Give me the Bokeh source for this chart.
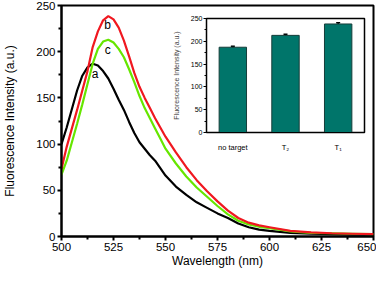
from bokeh.plotting import figure
from bokeh.models import Range1d, FactorRange, ColumnDataSource, Whisker, TeeHead, FixedTicker, GridBox
from bokeh.embed import file_html
from bokeh.resources import INLINE
from bokeh.core.properties import value

# ---- main spectra ----
wavelength = [500, 502.5, 505, 507.5, 510, 512.5, 515, 517.5, 520, 522.5, 525, 527.5,
              530, 532.5, 535, 537.5, 540, 542.5, 545, 547.5, 550, 555, 560, 565, 570,
              575, 580, 585, 590, 595, 600, 610, 620, 630, 640, 650]
curve_a = [100, 118, 138, 158, 174, 183, 187, 185, 179, 171, 160, 148,
           137, 124, 112, 102, 95, 88, 82, 74, 66, 54, 45, 37, 31,
           25, 20, 14, 10, 7.5, 6, 4, 3, 2.5, 2, 2]
curve_b = [73, 97, 117, 137, 158, 179, 205, 222, 234, 238.5, 235, 226,
           212, 195, 177, 162, 150, 139, 128, 118, 108, 91, 75, 61, 49,
           38, 28, 20, 15, 12, 10, 6, 4.5, 3.5, 3, 2.5]
curve_c = [67, 82, 102, 122, 143, 165, 187, 203, 211, 213, 210, 203,
           194, 181, 167, 152, 139, 128, 117, 106, 95, 79, 65, 53, 43,
           33, 24, 17, 13, 10.5, 9, 5.5, 4, 3.5, 3, 2.5]
curve_names = ["a", "b", "c"]

x_ticks = [500, 525, 550, 575, 600, 625, 650]
y_ticks = [0, 50, 100, 150, 200, 250]

# ---- inset bar chart ----
inset_categories = ["no target", "T\u2082", "T\u2081"]
inset_values = [187, 213, 238]
inset_errors = [2, 2.5, 2.5]
inset_ticks = [0, 50, 100, 150, 200, 250]

FONT = "Liberation Sans"

p = figure(width=376, height=270, x_range=Range1d(500, 650), y_range=Range1d(0, 250),
           output_backend="svg", toolbar_location=None,
           min_border_left=56, min_border_right=3, min_border_top=1, min_border_bottom=33)
p.grid.visible = False
p.outline_line_color = "black"
p.outline_line_width = 2
p.background_fill_color = "white"

for ys, col in ((curve_a, "black"), (curve_c, "#66e600"), (curve_b, "#f01820")):
    p.line(wavelength, ys, line_color=col, line_width=2.2)

p.text(x=[516.1, 522.2, 522.2], y=[176, 228.8, 202.3], text=curve_names,
       text_font=value(FONT), text_font_size="12px", text_align="center",
       text_baseline="middle", text_color="black")

p.xaxis.ticker = FixedTicker(ticks=x_ticks, minor_ticks=[512.5, 537.5, 562.5, 587.5, 612.5, 637.5])
p.yaxis.ticker = FixedTicker(ticks=y_ticks, minor_ticks=[25, 75, 125, 175, 225])
p.xaxis.axis_label = "Wavelength (nm)"
p.yaxis.axis_label = "Fluorescence Intensity (a.u.)"
for ax in (p.xaxis, p.yaxis):
    ax.axis_line_width = 2
    ax.axis_line_color = "black"
    ax.major_tick_line_width = 2
    ax.minor_tick_line_width = 2
    ax.major_tick_in = 0
    ax.major_tick_out = 4
    ax.minor_tick_in = 0
    ax.minor_tick_out = 3
    ax.major_label_text_font = FONT
    ax.major_label_text_font_size = "11.5px"
    ax.major_label_text_color = "black"
    ax.axis_label_text_font = FONT
    ax.axis_label_text_font_style = "normal"
    ax.axis_label_text_font_size = "12px"
    ax.axis_label_text_color = "black"
p.xaxis.major_label_standoff = 2
p.xaxis.axis_label_standoff = 0
p.yaxis.major_label_standoff = 2
p.yaxis.axis_label_standoff = 16

# ---- inset ----
src = ColumnDataSource(dict(
    x=inset_categories, top=inset_values,
    upper=[v + e for v, e in zip(inset_values, inset_errors)],
    lower=[v - e for v, e in zip(inset_values, inset_errors)]))

p2 = figure(width=222, height=153, x_range=FactorRange(*inset_categories),
            y_range=Range1d(0, 250), output_backend="svg", toolbar_location=None,
            min_border_left=40, min_border_right=2, min_border_top=5, min_border_bottom=20)
p2.border_fill_alpha = 0
p2.background_fill_color = "white"
p2.grid.visible = False
p2.outline_line_color = "black"
p2.outline_line_width = 1.5
p2.vbar(x="x", top="top", width=0.52, source=src, fill_color="#00756a",
        line_color="#163d39", line_width=1)
p2.add_layout(Whisker(base="x", upper="upper", lower="lower", source=src,
                      line_color="black", line_width=1.5,
                      upper_head=TeeHead(size=4, line_color="black", line_width=1.5),
                      lower_head=TeeHead(size=4, line_color="black", line_width=1.5)))
p2.yaxis.ticker = FixedTicker(ticks=inset_ticks, minor_ticks=[25, 75, 125, 175, 225])
p2.yaxis.axis_label = "Fluorescence Intensity (a.u.)"
for ax in (p2.xaxis, p2.yaxis):
    ax.axis_line_color = "black"
    ax.axis_line_width = 1
    ax.major_label_text_font = FONT
    ax.major_label_text_color = "black"
    ax.axis_label_text_font = FONT
    ax.axis_label_text_font_style = "normal"
    ax.axis_label_text_font_size = "7px"
p2.yaxis.major_label_text_font_size = "7px"
p2.xaxis.major_label_text_font_size = "7.5px"
p2.yaxis.major_tick_in = 0
p2.yaxis.major_tick_out = 3
p2.yaxis.minor_tick_in = 0
p2.yaxis.minor_tick_out = 2
p2.yaxis.major_label_standoff = 1
p2.yaxis.axis_label_standoff = 8
p2.xaxis.major_tick_line_color = None
p2.xaxis.minor_tick_line_color = None
p2.xaxis.major_label_standoff = 4

# inset placed in the same grid cell as the main plot, offset by its margin
p2.margin = (13, 0, 0, 145)
layout = GridBox(children=[(p, 0, 0), (p2, 0, 0)], spacing=0)

open("out.html", "w").write(file_html(layout, INLINE))
